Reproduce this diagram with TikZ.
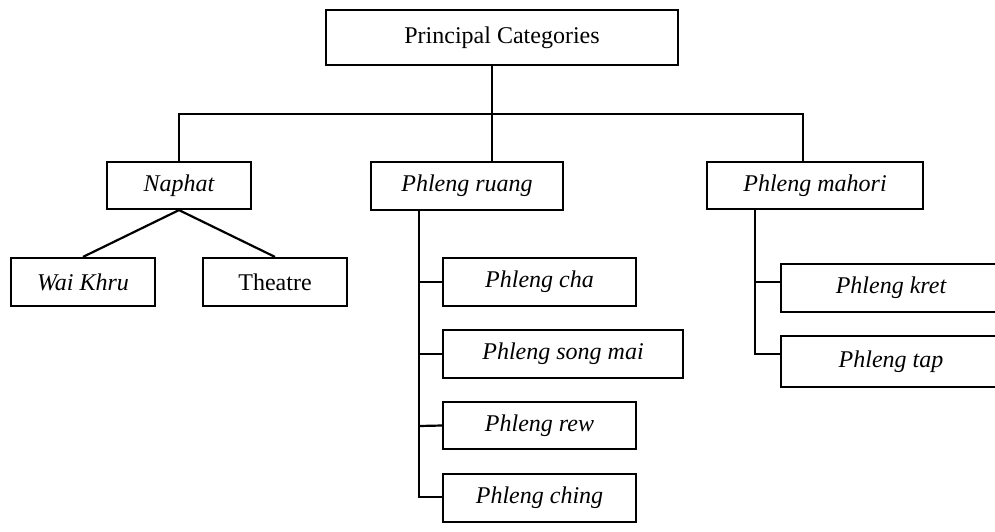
\documentclass[tikz,border=0pt]{standalone}
\usepackage{fontspec}
\setmainfont{Liberation Serif}
\begin{document}
\begin{tikzpicture}[x=1pt,y=-1pt,
  box/.style={draw, line width=2.2pt, inner sep=0pt, font=\fontsize{24}{29}\selectfont},
  link/.style={line width=2.2pt}]
\useasboundingbox (0,0) rectangle (995,531);
\begin{scope}
\clip (-2,-2) rectangle (997,533);
% top level
\node[box, minimum width=352pt, minimum height=55pt] (pc) at (502,37.5) {Principal Categories};
% second level
\node[box, minimum width=144pt, minimum height=47pt] (naphat) at (179,185.5) {\itshape Naphat};
\node[box, minimum width=192pt, minimum height=48pt] (ruang) at (467,186) {\itshape Phleng ruang};
\node[box, minimum width=216pt, minimum height=47pt] (mahori) at (815,185.5) {\itshape Phleng mahori};
% under Naphat
\node[box, minimum width=144pt, minimum height=48pt] (waikhru) at (83,282) {\itshape Wai Khru};
\node[box, minimum width=144pt, minimum height=48pt] (theatre) at (275,282) {Theatre};
% under Phleng ruang
\node[box, minimum width=193pt, minimum height=48pt] (cha) at (539.5,282) {\itshape Phleng cha};
\node[box, minimum width=240pt, minimum height=48pt] (songmai) at (563,354) {\itshape Phleng song mai};
\node[box, minimum width=193pt, minimum height=47pt] (rew) at (539.5,425.5) {\itshape Phleng rew};
\node[box, minimum width=193pt, minimum height=48pt] (ching) at (539.5,498) {\itshape Phleng ching};
% under Phleng mahori
\node[box, minimum width=220pt, minimum height=48pt] (kret) at (891,288) {\itshape Phleng kret};
\node[box, minimum width=220pt, minimum height=51pt] (tap) at (891,361.5) {\itshape Phleng tap};

% bus below the top box
\coordinate (drop) at (492,65);
\coordinate (bus) at (492,114);
\draw[link] (drop) -- (bus);
\draw[link] (naphat.north) -- (naphat.north |- bus) -- (803,114) -- (803,162);
\draw[link] (bus) -- (ruang.north -| bus);

% Naphat fan-out
\draw[link] (waikhru.north) -- (naphat.south) -- (theatre.north);

% Phleng ruang spine
\coordinate (rspine) at (419,210);
\draw[link] (rspine) -- (419,497) -- (ching.west |- 419,497);
\draw[link] (419,282) -- (cha.west);
\draw[link] (419,354) -- (songmai.west);
\draw[link] (419,426) -- (rew.west);

% Phleng mahori spine
\coordinate (mspine) at (755,209);
\draw[link] (mspine) -- (755,354) -- (tap.west |- 755,354);
\draw[link] (755,282) -- (kret.west |- 755,282);
\end{scope}
\end{tikzpicture}
\end{document}
